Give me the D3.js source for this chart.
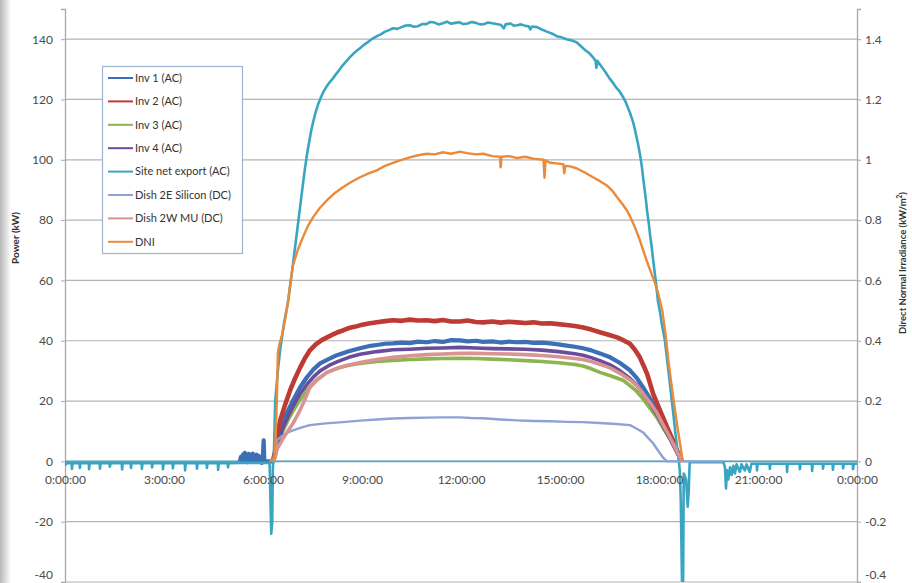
<!DOCTYPE html>
<html><head><meta charset="utf-8">
<script src="https://cdn.jsdelivr.net/npm/d3@7"></script>
<style>body{margin:0;background:#fff}svg{display:block}</style>
</head><body><svg id="c" width="912" height="583"></svg>
<script>
// ---------- DATA (hour of day, value) ----------
const xTickHours = [0, 3, 6, 9, 12, 15, 18, 21, 24];
const xTickLabels = ["0:00:00","3:00:00","6:00:00","9:00:00","12:00:00","15:00:00","18:00:00","21:00:00","0:00:00"];
const leftTicks = [-40,-20,0,20,40,60,80,100,120,140];
const leftTickLabels = ["-40","-20","0","20","40","60","80","100","120","140"];
const rightTicks = [-0.4,-0.2,0,0.2,0.4,0.6,0.8,1,1.2,1.4];
const rightTickLabels = ["-0.4","-0.2","0","0.2","0.4","0.6","0.8","1","1.2","1.4"];
const seriesNames = ["Inv 1 (AC)","Inv 2 (AC)","Inv 3 (AC)","Inv 4 (AC)","Site net export (AC)","Dish 2E Silicon (DC)","Dish 2W MU (DC)","DNI"];

const inv1 = [[5.3,0],[5.33,1.5],[5.36,0.2],[5.39,2.2],[5.42,0.6],[5.45,2.8],[5.48,0.8],[5.51,1.8],[5.54,-0.3],[5.57,2.5],[5.6,0.5],[5.63,1.9],[5.66,0.2],[5.69,2.6],[5.72,0.7],[5.75,1.6],[5.78,-0.2],[5.81,2.2],[5.84,0.4],[5.87,1.8],[5.9,0.1],[5.93,1.4],[5.96,-0.5],[5.99,0.6],[6.02,7],[6.04,0],[6.3,0],[6.38,3],[6.45,7],[6.52,11.3],[6.72,16],[6.91,20.2],[7.12,24.5],[7.33,27.9],[7.53,30.5],[7.73,32.5],[8.0,34],[8.24,35.2],[8.6,36.5],[8.94,37.5],[9.2,38.2],[9.45,38.6],[9.7,39],[9.94,39.1],[10.2,39.4],[10.45,39.2],[10.7,39.7],[10.97,39.5],[11.2,39.9],[11.45,39.6],[11.7,40.2],[11.97,40.1],[12.2,39.8],[12.45,40],[12.67,39.6],[12.95,39.8],[13.2,39.4],[13.45,39.7],[13.67,39.5],[13.95,39.6],[14.2,39.3],[14.45,39.4],[14.7,39.1],[14.95,38.8],[15.2,38.4],[15.45,38],[15.7,37.5],[15.95,36.8],[16.21,35.8],[16.52,34.5],[16.82,32.6],[17.12,30.2],[17.33,27.6],[17.52,24.5],[17.73,20.8],[17.94,16.9],[18.13,12.4],[18.33,8],[18.5,4.2],[18.64,1.3],[18.7,0]];

const inv2 = [[6.3,0],[6.38,4],[6.45,9],[6.52,13.6],[6.67,18.8],[6.82,23.5],[6.97,27.5],[7.12,31],[7.27,34.2],[7.42,36.8],[7.6,38.8],[7.78,40.2],[7.94,41.1],[8.1,42],[8.26,42.8],[8.42,43.4],[8.6,44.2],[8.77,44.6],[8.94,45.1],[9.2,45.7],[9.45,46.1],[9.7,46.5],[9.94,46.8],[10.2,46.6],[10.45,47],[10.7,46.7],[10.97,46.8],[11.2,46.5],[11.45,46.9],[11.7,46.4],[11.97,46.4],[12.2,46.7],[12.45,46.2],[12.67,46.1],[12.95,46.4],[13.2,46],[13.45,46.3],[13.7,46.1],[13.95,45.9],[14.2,46.1],[14.45,45.7],[14.7,45.8],[14.95,45.5],[15.2,45.2],[15.45,44.9],[15.7,44.4],[15.95,43.7],[16.21,42.8],[16.47,42],[16.73,41.1],[16.93,40.1],[17.12,39],[17.27,37],[17.42,34.5],[17.53,31.8],[17.64,29],[17.73,25.8],[17.82,22.5],[17.97,18.5],[18.12,14.6],[18.27,10.7],[18.42,7],[18.53,4],[18.64,1.3],[18.7,0]];

const inv3 = [[6.3,0],[6.38,2.5],[6.45,5.5],[6.6,10],[6.75,13.5],[6.9,16.5],[7.1,20],[7.33,23.5],[7.6,26.8],[7.94,29.5],[8.3,31],[8.6,31.9],[8.94,32.5],[9.45,33.1],[9.94,33.5],[10.45,33.8],[10.97,34],[11.45,34.1],[11.97,34.2],[12.45,34.1],[12.95,33.9],[13.45,33.7],[13.95,33.4],[14.45,33.1],[14.95,32.7],[15.45,32.1],[15.7,31.6],[15.95,30.7],[16.21,29.5],[16.55,28.3],[16.91,26.9],[17.1,25.3],[17.3,23.5],[17.45,21.6],[17.6,19.5],[17.77,17],[17.94,14.5],[18.13,11],[18.33,7.5],[18.5,4],[18.64,1],[18.7,0]];

const inv4 = [[6.3,0],[6.38,2.5],[6.45,6],[6.6,11],[6.75,14.6],[6.9,18],[7.1,22],[7.33,25.5],[7.53,28],[7.73,30],[8.0,31.8],[8.24,33],[8.6,34.5],[8.94,35.5],[9.45,36.4],[9.94,37],[10.45,37.2],[10.97,37.5],[11.45,37.6],[11.97,37.8],[12.45,37.6],[12.95,37.4],[13.45,37.3],[13.95,37.2],[14.45,36.9],[14.95,36.4],[15.45,35.7],[15.7,35.2],[15.95,34.4],[16.21,33.4],[16.52,32],[16.82,30],[17.12,27.5],[17.33,25.2],[17.52,22.5],[17.73,19.2],[17.94,15.5],[18.13,11.5],[18.33,7.5],[18.5,4],[18.64,1.2],[18.7,0]];

const siteExport = [[0,-1.4],[0.05,-0.6],[0.2,-0.6],[0.21,-2.5],[0.23,-0.6],[0.44,-0.6],[0.45,-2.2],[0.47,-0.6],[0.72,-0.6],[0.73,-2.6],[0.75,-0.6],[1.05,-0.6],[1.06,-2.4],[1.08,-0.6],[1.35,-0.6],[1.36,-1.8],[1.38,-0.6],[1.72,-0.6],[1.73,-2.7],[1.75,-0.6],[1.99,-0.6],[2.0,-2.2],[2.02,-0.6],[2.32,-0.6],[2.33,-2.5],[2.35,-0.6],[2.63,-0.6],[2.64,-2.0],[2.66,-0.6],[2.96,-0.6],[2.97,-2.6],[2.99,-0.6],[3.26,-0.6],[3.27,-2.3],[3.29,-0.6],[3.63,-0.6],[3.64,-3.0],[3.66,-0.6],[3.99,-0.6],[4.0,-2.4],[4.02,-0.6],[4.29,-0.6],[4.3,-2.2],[4.32,-0.6],[4.63,-0.6],[4.64,-2.8],[4.66,-0.6],[4.93,-0.6],[4.94,-2.0],[4.96,-0.6],[5.3,-0.5],[6.2,-0.5],[6.25,-24],[6.28,-20],[6.3,-2],[6.33,2],[6.37,20],[6.45,30],[6.52,37],[6.64,46],[6.76,53],[6.88,63],[6.96,70],[7.04,77],[7.12,84],[7.2,91],[7.27,97],[7.33,101.5],[7.4,106],[7.46,109.6],[7.53,113],[7.6,116],[7.67,118.4],[7.75,120.6],[7.83,122.5],[7.92,124.2],[8.02,125.7],[8.12,127],[8.22,128.5],[8.3,129.6],[8.42,131.4],[8.55,133],[8.65,134.2],[8.75,135.3],[8.85,136.2],[8.94,137],[9.07,138.2],[9.2,139.2],[9.32,140.2],[9.45,141],[9.57,141.6],[9.7,142.5],[9.82,143],[9.94,143.6],[10.07,143.4],[10.2,144],[10.32,144.5],[10.45,144.6],[10.57,144.1],[10.7,144.3],[10.82,145],[10.95,145],[11.07,145.7],[11.2,145.5],[11.32,144.9],[11.45,145.3],[11.57,145.8],[11.7,145.1],[11.82,145.4],[11.95,145.6],[12.07,145],[12.2,145.2],[12.32,145.7],[12.45,145.4],[12.57,144.9],[12.7,145],[12.82,145.5],[12.95,145.3],[13.07,145],[13.2,144.8],[13.3,143.6],[13.35,144.9],[13.5,145.2],[13.6,144.5],[13.7,144.6],[13.82,144.9],[13.95,144.4],[14.05,144.3],[14.1,143.2],[14.15,144.2],[14.3,144],[14.45,143.2],[14.6,142.5],[14.75,141.9],[14.9,141],[15.05,140.6],[15.2,140],[15.35,139.6],[15.5,139],[15.62,137.8],[15.75,136.5],[15.87,135.5],[16.0,134],[16.08,132.8],[16.1,130.5],[16.13,132.8],[16.25,131],[16.37,129.2],[16.5,127],[16.6,125.6],[16.7,124],[16.8,122.8],[16.9,121],[16.98,119.4],[17.05,117.5],[17.12,115.6],[17.2,113],[17.25,111],[17.3,108.5],[17.36,105.5],[17.42,102],[17.48,97.8],[17.53,93],[17.59,88],[17.64,83],[17.69,79],[17.73,75],[17.78,71],[17.82,67],[17.9,60],[17.97,53],[18.03,49.5],[18.08,46],[18.13,43],[18.18,40],[18.23,35.2],[18.28,30.5],[18.34,25],[18.39,20],[18.45,14.2],[18.5,9],[18.55,4.5],[18.6,0],[18.63,-3],[18.66,-13],[18.7,-42],[18.73,-42],[18.75,-4],[18.82,-6],[18.87,-15],[18.9,-10],[18.93,-0.3],[19.95,-0.3],[20.0,-2],[20.03,-9],[20.06,-3],[20.1,-6],[20.15,-2],[20.2,-4.5],[20.25,-1.5],[20.3,-4],[20.35,-1],[20.45,-3.5],[20.5,-1],[20.6,-3],[20.65,-1],[20.75,-3.5],[20.8,-0.8],[20.96,-0.8],[20.97,-3],[20.99,-0.8],[21.35,-0.8],[21.36,-2.5],[21.38,-0.8],[21.87,-0.8],[21.88,-3.5],[21.9,-0.8],[22.26,-0.8],[22.27,-2.6],[22.29,-0.8],[22.63,-0.8],[22.64,-3.2],[22.66,-0.8],[22.96,-0.8],[22.97,-2.4],[22.99,-0.8],[23.26,-0.8],[23.27,-2.8],[23.29,-0.8],[23.57,-0.8],[23.58,-2.3],[23.6,-0.8],[23.87,-0.8],[23.88,-2.6],[23.9,-0.8],[24,-0.8]];

const dish2E = [[6.3,0],[6.36,1],[6.42,7],[6.55,8.2],[6.72,9.4],[6.91,10.3],[7.15,11.2],[7.42,12],[7.9,12.6],[8.42,13],[8.94,13.5],[9.45,13.9],[9.94,14.2],[10.45,14.4],[10.97,14.5],[11.45,14.6],[11.97,14.6],[12.3,14.4],[12.67,14.3],[13.2,13.9],[13.7,13.6],[14.2,13.4],[14.7,13.3],[15.2,13.1],[15.7,13],[16.2,12.7],[16.7,12.4],[17.12,12],[17.3,11],[17.52,9.6],[17.67,7.8],[17.82,6],[17.97,3.6],[18.12,1.3],[18.24,0],[19.95,0]];

const dish2W = [[6.3,0],[6.36,1],[6.42,4],[6.6,7.5],[6.75,10],[6.91,12.6],[7.1,16.5],[7.25,20],[7.42,24.5],[7.6,26.6],[7.78,28.2],[7.94,29.5],[8.2,30.7],[8.5,31.7],[8.94,32.8],[9.45,33.8],[9.94,34.5],[10.45,35],[10.97,35.4],[11.45,35.6],[11.97,35.8],[12.45,35.8],[12.95,35.7],[13.45,35.6],[13.95,35.4],[14.45,35.1],[14.95,34.7],[15.45,34.1],[15.7,33.8],[15.95,33.1],[16.21,32.2],[16.52,31],[16.82,29.2],[17.12,27],[17.33,25],[17.52,22.5],[17.73,19.4],[17.94,16],[18.13,12],[18.33,8],[18.5,4.3],[18.64,1.3],[18.72,0]];

// DNI in kW/m2 (right axis)
const dni = [[6.2,0],[6.3,0.005],[6.36,0.013],[6.42,0.2],[6.45,0.36],[6.5,0.39],[6.58,0.42],[6.67,0.47],[6.76,0.53],[6.84,0.6],[6.91,0.65],[7.05,0.7],[7.21,0.743],[7.36,0.78],[7.52,0.81],[7.72,0.84],[7.94,0.866],[8.18,0.89],[8.42,0.909],[8.7,0.928],[8.94,0.942],[9.2,0.955],[9.45,0.965],[9.7,0.98],[9.94,0.99],[10.2,1.0],[10.45,1.008],[10.7,1.015],[10.97,1.02],[11.2,1.018],[11.45,1.025],[11.7,1.02],[11.97,1.027],[12.18,1.022],[12.45,1.018],[12.67,1.02],[12.95,1.012],[13.18,1.01],[13.2,0.975],[13.23,1.01],[13.45,1.012],[13.7,1.006],[13.95,1.01],[14.18,1.004],[14.5,1.0],[14.53,0.94],[14.56,0.998],[14.7,0.99],[14.9,0.988],[15.1,0.985],[15.13,0.955],[15.16,0.98],[15.3,0.978],[15.5,0.972],[15.75,0.958],[16.0,0.942],[16.2,0.93],[16.42,0.915],[16.58,0.898],[16.73,0.876],[16.88,0.855],[17.03,0.832],[17.15,0.806],[17.27,0.776],[17.4,0.74],[17.52,0.70],[17.63,0.665],[17.73,0.634],[17.85,0.6],[17.97,0.56],[18.1,0.5],[18.2,0.42],[18.3,0.32],[18.42,0.22],[18.55,0.12],[18.65,0.05],[18.72,0]];

const seriesData = [inv1, inv2, inv3, inv4, siteExport, dish2E, dish2W, dni];
const seriesColors = ["#3b6fb6","#bd3a35","#8cb552","#6a4c9c","#3aa5c1","#8fa2d6","#d99390","#eb8a3a"];
const seriesWidths = [4.2, 4.6, 3.6, 3.6, 2.6, 2.4, 3.6, 2.4];
const seriesAxis = ["L","L","L","L","L","L","L","R"];

// ---------- CHART ----------
const svg = d3.select("#c");
const FONT = "Lato, 'Open Sans', sans-serif";
const x = d3.scaleLinear().domain([0,24]).range([65,857]);
const yL = d3.scaleLinear().domain([-40,150]).range([582,9]);
const yR = d3.scaleLinear().domain([-0.4,1.5]).range([582,9]);

const defs = svg.append("defs");
const g1 = defs.append("linearGradient").attr("id","edge").attr("x1",0).attr("x2",1);
g1.append("stop").attr("offset",0).attr("stop-color","#b8b8b8");
g1.append("stop").attr("offset",1).attr("stop-color","#ffffff");
defs.append("clipPath").attr("id","plot").append("rect").attr("x",65).attr("y",9).attr("width",792).attr("height",573);

svg.append("rect").attr("width",912).attr("height",583).attr("fill","#fff");
svg.append("rect").attr("x",0).attr("y",0).attr("width",11).attr("height",583).attr("fill","url(#edge)");

// gridlines
svg.append("g").selectAll("line").data(leftTicks).join("line")
  .attr("x1",x(0)).attr("x2",x(24)).attr("y1",d=>yL(d)).attr("y2",d=>yL(d))
  .attr("stroke","#b4b4b4").attr("stroke-width",1.2);

// axes
const ax = svg.append("g").attr("transform",`translate(${x(0)},0)`)
  .call(d3.axisLeft(yL).tickValues(leftTicks).tickSize(4).tickPadding(8).tickFormat((d,i)=>leftTickLabels[i]));
const ar = svg.append("g").attr("transform",`translate(${x(24)},0)`)
  .call(d3.axisRight(yR).tickValues(rightTicks).tickSize(4).tickPadding(4).tickFormat((d,i)=>rightTickLabels[i]));
[ax, ar].forEach(a=>{
  a.select(".domain").attr("stroke","#a8a8a8").attr("stroke-width",1.3);
  a.selectAll(".tick line").attr("stroke","#a8a8a8");
  a.selectAll("text").attr("font-family",FONT).attr("font-size",12).attr("fill","#4a4a4a");
  // keep the lowest label inside the picture
  a.selectAll(".tick").filter((d,i)=>i===0).select("text").attr("dy","-0.3em");
});

// lines
const lineL = d3.line().x(d=>x(d[0])).y(d=>yL(d[1]));
const lineR = d3.line().x(d=>x(d[0])).y(d=>yR(d[1]));
const plot = svg.append("g").attr("clip-path","url(#plot)");
plot.append("line").attr("x1",x(0)).attr("x2",x(24)).attr("y1",yL(0)).attr("y2",yL(0))
  .attr("stroke","#5aa3b8").attr("stroke-width",1.6);
seriesData.forEach((s,i)=>{
  plot.append("path").datum(s)
    .attr("d", seriesAxis[i]==="L" ? lineL : lineR)
    .attr("fill","none").attr("stroke",seriesColors[i])
    .attr("stroke-width",seriesWidths[i]).attr("stroke-linejoin","round");
});

// x axis labels
const axb = svg.append("g").attr("transform",`translate(0,${yL(0)})`)
  .call(d3.axisBottom(x).tickValues(xTickHours).tickSize(0).tickPadding(14).tickFormat((d,i)=>xTickLabels[i]));
axb.select(".domain").remove();
axb.selectAll("text").attr("font-family",FONT).attr("font-size",12).attr("fill","#4a4a4a");

// axis titles
svg.append("text").attr("transform","translate(19,238) rotate(-90)").attr("text-anchor","middle")
  .attr("font-family",FONT).attr("font-size",10).attr("font-weight","bold").attr("fill","#333").text("Power (kW)");
const rt = svg.append("text").attr("transform","translate(906,263) rotate(-90)").attr("text-anchor","middle")
  .attr("font-family",FONT).attr("font-size",9.5).attr("font-weight","bold").attr("fill","#333");
rt.append("tspan").text("Direct Normal Irradiance (kW/m");
rt.append("tspan").attr("font-size",6.5).attr("dy",-4).text("2");
rt.append("tspan").attr("dy",4).text(")");

// legend
const lg = svg.append("g");
lg.append("rect").attr("x",102.5).attr("y",66.5).attr("width",140).attr("height",187)
  .attr("fill","#fff").attr("stroke","#9fb2cf").attr("stroke-width",1.2);
seriesNames.forEach((n,i)=>{
  const yy = 78 + i*23.4;
  lg.append("line").attr("x1",108).attr("x2",133).attr("y1",yy).attr("y2",yy)
    .attr("stroke",seriesColors[i]).attr("stroke-width",2);
  lg.append("text").attr("x",135).attr("y",yy).attr("dy","0.35em")
    .attr("font-family",FONT).attr("font-size",11).attr("fill","#333").text(n);
});
</script></body></html>
